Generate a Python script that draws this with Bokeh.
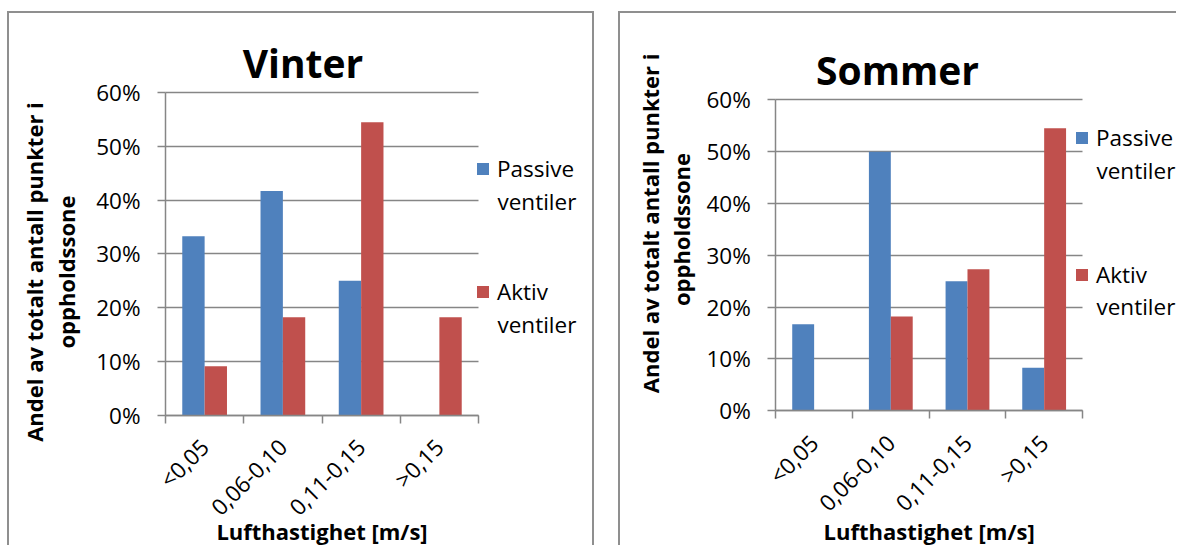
import math

from bokeh.embed import file_html
from bokeh.layouts import row
from bokeh.models import (FixedTicker, Grid, Label, Legend, LegendItem, LinearAxis,
                          NumeralTickFormatter, Range1d)
from bokeh.plotting import figure
from bokeh.resources import INLINE

# Air speed classes (m/s) and the share of measuring points in each class
categories = ["<0,05", "0,06-0,10", "0,11-0,15", ">0,15"]
series_labels = ["Passive", "Aktiv"]
vinter_passive = [0.333, 0.417, 0.250, 0.0]
vinter_aktiv = [0.091, 0.182, 0.545, 0.182]
sommer_passive = [0.167, 0.500, 0.250, 0.083]
sommer_aktiv = [0.0, 0.182, 0.273, 0.545]
y_ticks = [0.0, 0.1, 0.2, 0.3, 0.4, 0.5, 0.6]

FONT = "Open Sans"
BLUE = "#4F81BD"
RED = "#C0504D"
GRID = "#868686"
BORDER = "#8f8f8f"
BAR_W = 1 / 3.5
Y_MAX = y_ticks[-1]
# Label anchors sit this fraction of the font size above the text baseline
BASELINE_SHIFT = 0.388


def make_panel(title, passive, aktiv, g):
    W, H = g["w"], g["h"]
    left, right, top, bottom = g["box"]
    n = len(categories)
    xppu = (right - left) / n
    yppu = (bottom - top) / Y_MAX
    p = figure(width=W, height=H, output_backend="svg", toolbar_location=None,
               x_range=Range1d(-left / xppu, (W - left) / xppu),
               y_range=Range1d(-(H - bottom) / yppu, Y_MAX + top / yppu),
               x_axis_location=None, y_axis_location=None,
               min_border=0, min_border_left=0, min_border_right=0,
               min_border_top=0, min_border_bottom=0)
    p.outline_line_color = None
    p.background_fill_color = "white"
    p.border_fill_color = "white"
    p.grid.visible = False

    # horizontal grid lines limited to the plot area
    ygrid = Grid(dimension=1, ticker=FixedTicker(ticks=y_ticks),
                 grid_line_color=GRID, grid_line_width=1.5)
    if "cross_bounds" in Grid.properties():
        ygrid.cross_bounds = (0, n)
        p.add_layout(ygrid)
    else:
        p.segment(x0=[0] * len(y_ticks), x1=[n] * len(y_ticks), y0=y_ticks, y1=y_ticks,
                  line_color=GRID, line_width=1.5)

    idx = list(range(n))
    xb = [i + 0.5 - BAR_W / 2 for i in idx]
    xr = [i + 0.5 + BAR_W / 2 for i in idx]
    rb = p.vbar(x=xb, top=passive, width=BAR_W, fill_color=BLUE, line_color=None)
    rr = p.vbar(x=xr, top=aktiv, width=BAR_W, fill_color=RED, line_color=None)

    # y axis along x = 0
    ya = LinearAxis(fixed_location=0, bounds=(0, Y_MAX),
                    ticker=FixedTicker(ticks=y_ticks),
                    formatter=NumeralTickFormatter(format="0%"))
    ya.axis_line_color = GRID
    ya.axis_line_width = 1.5
    ya.major_tick_line_color = GRID
    ya.major_tick_line_width = 1.5
    ya.major_tick_out = 8
    ya.major_tick_in = 0
    ya.minor_tick_line_color = None
    ya.major_label_standoff = 17
    ya.major_label_text_font = FONT
    ya.major_label_text_font_size = "22.5px"
    ya.major_label_text_color = "black"
    p.add_layout(ya, "left")

    # x axis along y = 0: labels in the middle of each class, ticks on the boundaries
    centers = [i + 0.5 for i in idx]
    xa = LinearAxis(fixed_location=0, bounds=(0, n),
                    ticker=FixedTicker(ticks=centers, minor_ticks=list(range(n + 1))))
    xa.major_label_overrides = {c: lab for c, lab in zip(centers, categories)}
    xa.major_label_orientation = math.pi / 4
    xa.major_tick_line_color = None
    xa.major_tick_out = 0
    xa.major_tick_in = 0
    xa.minor_tick_line_color = GRID
    xa.minor_tick_line_width = 1.5
    xa.minor_tick_out = 8
    xa.minor_tick_in = 0
    xa.axis_line_color = GRID
    xa.axis_line_width = 1.5
    xa.major_label_standoff = g["xstand"]
    xa.major_label_text_font = FONT
    xa.major_label_text_font_size = "22.5px"
    xa.major_label_text_color = "black"
    p.add_layout(xa, "below")

    def text(txt, x, base, size, bold=False, vertical=False, align="center"):
        # (x, base): anchor in canvas pixels; base is the baseline position
        shift = BASELINE_SHIFT * size
        if vertical:
            sx, sy, angle = x - shift, H - base, math.pi / 2
        else:
            sx, sy, angle = x, H - (base - shift), 0.0
        p.add_layout(Label(x=sx, y=sy, x_units="screen", y_units="screen", text=txt,
                           angle=angle, text_align=align, text_baseline="alphabetic",
                           text_font=FONT, text_font_size=f"{size}px",
                           text_font_style="bold" if bold else "normal",
                           text_color="black"))

    text(title, g["tx"], g["ty"], 39, bold=True)
    text("Andel av totalt antall punkter i", g["y1"][0], g["y1"][1], 22, True, True)
    text("oppholdssone", g["y2"][0], g["y2"][1], 22, True, True)
    text("Lufthastighet [m/s]", (left + right) / 2, g["xly"], 22, bold=True)

    sq_x, sq_y = g["sq"]
    item_h = 30
    legend_h = 2 * item_h + g["lsp"]
    legend = Legend(items=[LegendItem(label=series_labels[0], renderers=[rb]),
                           LegendItem(label=series_labels[1], renderers=[rr])],
                    location=(sq_x, H - (sq_y + 7.5 - item_h / 2 + legend_h)),
                    orientation="vertical",
                    glyph_width=15, glyph_height=15, label_standoff=7,
                    label_height=item_h, spacing=g["lsp"], padding=0, margin=0,
                    border_line_color=None, background_fill_alpha=0,
                    label_text_font=FONT, label_text_font_size="22.5px",
                    label_text_color="black")
    p.add_layout(legend)
    for yb in g["vy"]:
        text("ventiler", sq_x + 22, yb, 22.5, align="left")
    return p


# pixel geometry of each panel canvas (plot box = left, right, top, bottom)
g1 = dict(w=587, h=534, box=(156, 469, 79.3, 401.5), xstand=20,
          tx=293.5, ty=64, y1=(32.7, 258.5), y2=(65, 258.5), xly=526,
          sq=(466, 149), lsp=92, vy=[196.3, 319.3])
g2 = dict(w=558, h=534, box=(155.3, 462, 86.3, 397.3), xstand=20,
          tx=277, ty=71, y1=(37.7, 209.8), y2=(69, 216), xly=526,
          sq=(454, 118), lsp=106, vy=[166, 302])

p1 = make_panel("Vinter", vinter_passive, vinter_aktiv, g1)
p2 = make_panel("Sommer", sommer_passive, sommer_aktiv, g2)

edge = f"2px solid {BORDER}"
p1.styles = {"border-left": edge, "border-top": edge, "border-right": edge}
p2.styles = {"border-left": edge, "border-top": edge}
p1.margin = (11, 0, 0, 7)
p2.margin = (11, 0, 0, 24)

layout = row(p1, p2)
layout.margin = 0

with open("out.html", "w") as f:
    f.write(file_html(layout, INLINE, title="Lufthastighet"))
